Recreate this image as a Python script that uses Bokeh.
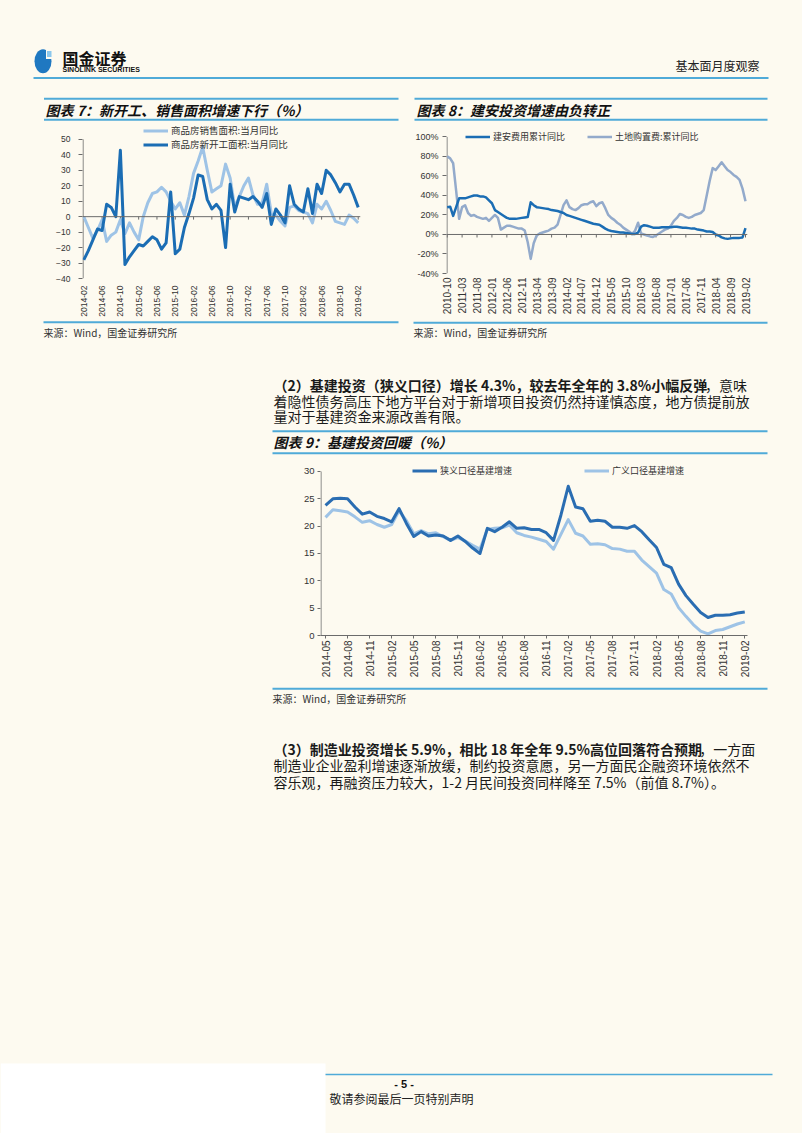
import math
from bokeh.plotting import figure
from bokeh.layouts import column, row
from bokeh.models import Range1d, FixedTicker, Span, Legend, LegendItem, PrintfTickFormatter
from bokeh.core.properties import value
from bokeh.embed import file_html
from bokeh.resources import INLINE

CJK = "Noto Sans CJK SC"
LAT = "Liberation Sans"
CREAM = "#FDFAF0"
RULE = "#4FAAD8"
DARK = "#1B6DB4"
DARK9 = "#2A6DB2"
LIGHT = "#9EC3E6"
GREYBLUE = "#93AACB"
AXIS = "#6b6b6b"
TXT = "#1a1a1a"
LBL = "#333333"
PAGE_W = 802

# ---------------- data: chart 7 (monthly 2014-02 .. 2019-02) ----------------
c7_tick_labels = ["2014-02", "2014-06", "2014-10", "2015-02", "2015-06", "2015-10",
                  "2016-02", "2016-06", "2016-10", "2017-02", "2017-06", "2017-10",
                  "2018-02", "2018-06", "2018-10", "2019-02"]
c7_sales = [0, -7, -14, -9, -2, -16, -12, -10, -2, -11,
            -4, -10, -15, 0, 9, 15, 16, 19, 16, 10,
            5, 9, 1, 13, 28, 36, 45, 30, 16, 18,
            20, 34, 25, 6, 13, 20, 25, 14, 8, 9,
            21, 2, 1, -3, -6, 6, 7, 4, 3, 2,
            -4, 8, 5, 10, 4, -3, -4, -5, 1, -1,
            -4]
c7_newstart = [-28, -22, -15, -8, -9, 8, 6, 0, 43, -31,
               -26, -22, -18, -19, -16, -13, -15, -21, -17, 16,
               -24, -21, -7, 2, 12, 27, 26, 11, 5, 8,
               4, -20, 21, 3, 13, 12, 11, 13, 10, 6,
               15, -5, 5, 1, -4, 20, 8, 5, 3, 18,
               2, 21, 15, 30, 27, 22, 16, 21, 21, 14,
               6]
c7_yticks = [-40, -30, -20, -10, 0, 10, 20, 30, 40, 50]
c7_names = ["商品房销售面积:当月同比", "商品房新开工面积:当月同比"]

# ---------------- data: chart 8 (monthly 2010-10 .. 2019-02) ----------------
c8_tick_labels = ["2010-10", "2011-03", "2011-08", "2012-01", "2012-06", "2012-11",
                  "2013-04", "2013-09", "2014-02", "2014-07", "2014-12", "2015-05",
                  "2015-10", "2016-03", "2016-08", "2017-01", "2017-06", "2017-11",
                  "2018-04", "2018-09", "2019-02"]
c8_construction = [28, 28.5, 19, 28, 37, 37, 37, 38, 39, 40,
                   40, 39, 39, 38, 35, 32, 25, 23, 21, 19,
                   17, 16, 16, 16, 16.5, 17, 17.5, 18, 33, 30,
                   28, 27.5, 27, 26.5, 26, 25, 24.5, 24, 23, 22,
                   20, 19, 18, 17, 16, 15, 14, 13, 12, 11,
                   10.5, 10, 8, 6, 4.5, 3.5, 3, 2.5, 2, 2,
                   1.5, 1, 0.5, 0.5, 2, 8, 9.5, 9, 8, 7,
                   7, 7, 7.5, 7.5, 7.5, 7.5, 8, 8, 7.5, 7,
                   7, 6.5, 6, 6, 5, 4.5, 4, 3, 3, 2.5,
                   0, -1, -3, -4, -4.5, -4, -3.5, -3.5, -3.5, -3,
                   6.5]
c8_land = [80, 78, 73, 45, 16, 28, 30, 22, 19, 20,
           18, 17, 16, 17, 14, 17, 20, 17, 5, 7,
           9, 9, 8, 7, 6, 6, 4, -8, -25, -9,
           -1, 1, 2, 3, 4, 6, 7, 10, 20, 30,
           35, 28, 26, 25, 27, 30, 31, 31, 33, 34,
           29, 32, 33, 27, 20, 17, 15, 12, 10, 7,
           5, 3, 0.5, 4, 12, 1, 0, -1, -2, -2.5,
           -1, 1, 3, 5, 6, 9, 14, 17, 21, 20,
           18, 17, 18, 20, 21, 22, 25, 40, 55, 68,
           66, 70, 74, 70, 66, 64, 61, 59, 56, 47,
           34]
c8_yticks = [-40, -20, 0, 20, 40, 60, 80, 100]
c8_names = ["建安费用累计同比", "土地购置费:累计同比"]

# ---------------- data: chart 9 (monthly 2014-05 .. 2019-02) ----------------
c9_tick_labels = ["2014-05", "2014-08", "2014-11", "2015-02", "2015-05", "2015-08",
                  "2015-11", "2016-02", "2016-05", "2016-08", "2016-11", "2017-02",
                  "2017-05", "2017-08", "2017-11", "2018-02", "2018-05", "2018-08",
                  "2018-11", "2019-02"]
c9_narrow = [23.8, 25.0, 25.1, 25.0, 23.5, 22.2, 22.6, 21.8, 21.4, 20.8,
             23.2, 20.5, 18.1, 19.0, 18.2, 18.4, 18.2, 17.4, 18.2, 17.2,
             16.0, 15.0, 19.6, 19.0, 19.8, 20.8, 19.6, 19.7, 19.4, 19.4,
             18.8, 17.4, 22.0, 27.3, 23.5, 23.2, 20.9, 21.1, 20.9, 19.8,
             19.8, 19.6, 20.1, 19.0, 17.5, 16.1, 13.0, 12.4, 9.4, 7.3,
             5.7, 4.2, 3.3, 3.7, 3.7, 3.8, 4.1, 4.3]
c9_broad = [21.6, 23.0, 22.8, 22.6, 21.7, 20.7, 21.0, 20.3, 19.8, 20.3,
            22.8, 21.0, 18.6, 19.2, 18.6, 18.8, 18.1, 17.4, 17.9, 17.3,
            16.5, 15.8, 19.4, 19.6, 19.7, 20.2, 18.8, 18.3, 18.0, 17.6,
            17.2, 15.8, 18.5, 21.2, 18.7, 18.2, 16.7, 16.8, 16.6, 15.9,
            15.8, 15.4, 15.4, 13.8, 12.6, 11.4, 8.4, 7.6, 5.1, 3.5,
            2.0, 0.8, 0.3, 0.9, 1.1, 1.6, 2.1, 2.5]
c9_yticks = [0, 5, 10, 15, 20, 25, 30]
c9_names = ["狭义口径基建增速", "广义口径基建增速"]

# ---------------- texts ----------------
header_right = "基本面月度观察"
title7 = "图表 7：新开工、销售面积增速下行（%）"
title8 = "图表 8：建安投资增速由负转正"
title9 = "图表 9：基建投资回暖（%）"
source = "来源：Wind，国金证券研究所"
p2_l1_bold = "（2）基建投资（狭义口径）增长 4.3%，较去年全年的 3.8%小幅反弹"
p2_l1_norm = "，意味"
p2_l2 = "着隐性债务高压下地方平台对于新增项目投资仍然持谨慎态度，地方债提前放"
p2_l3 = "量对于基建资金来源改善有限。"
p3_l1_bold = "（3）制造业投资增长 5.9%，相比 18 年全年 9.5%高位回落符合预期"
p3_l1_norm = "，一方面"
p3_l2 = "制造业企业盈利增速逐渐放缓，制约投资意愿，另一方面民企融资环境依然不"
p3_l3 = "容乐观，再融资压力较大，1-2 月民间投资同样降至 7.5%（前值 8.7%）。"
page_no = "- 5 -"
disclaimer = "敬请参阅最后一页特别声明"


# ---------------- helpers ----------------
def page_fig(y0, y1, x0=0, x1=PAGE_W):
    f = figure(width=int(x1 - x0), height=int(y1 - y0), x_range=Range1d(x0, x1), y_range=Range1d(y1, y0),
               x_axis_type=None, y_axis_type=None, output_backend="svg",
               toolbar_location=None, min_border=0)
    f.outline_line_color = None
    f.background_fill_color = CREAM
    f.border_fill_color = CREAM
    return f


def txt(f, x, y, s, size, font=CJK, style="normal", align="left", color=TXT):
    f.text(x=[x], y=[y], text=[s], text_font=value(font), text_font_size=size,
           text_font_style=style, text_align=align, text_baseline="middle", text_color=color)


def rule(f, x0, x1, y, width=2, color=RULE):
    f.segment(x0=[x0], y0=[y], x1=[x1], y1=[y], line_color=color, line_width=width)


def est_width(s, fs, bold=False):
    w = 0.0
    for ch in s:
        if ord(ch) > 0x2000:
            w += 1.0
        elif ch.isdigit():
            w += 0.57 if bold else 0.55
        elif ch == ".":
            w += 0.28
        elif ch == "%":
            w += 0.9
        elif ch == " ":
            w += 0.23
        elif ch == "-":
            w += 0.34
        else:
            w += 0.6
    return w * fs


def chart_fig(w, h, bl, br, bt, bb, xr, yr):
    p = figure(width=w, height=h, x_range=Range1d(*xr), y_range=Range1d(*yr),
               output_backend="svg", toolbar_location=None,
               min_border_left=bl, min_border_right=br, min_border_top=bt, min_border_bottom=bb)
    p.background_fill_color = CREAM
    p.border_fill_color = CREAM
    p.outline_line_color = None
    p.grid.visible = False
    return p


def style_axes(p, xticks, xlabels, xfs, xstand, yticks, yfs, ystand, ytick_out, x_axis_line):
    xa = p.xaxis[0]
    xa.ticker = FixedTicker(ticks=xticks)
    xa.major_label_overrides = {t: l for t, l in zip(xticks, xlabels)}
    xa.major_label_orientation = math.pi / 2
    xa.major_label_text_font = LAT
    xa.major_label_text_font_size = xfs
    xa.major_label_text_color = LBL
    xa.major_label_standoff = xstand
    xa.minor_tick_line_color = None
    if x_axis_line:
        xa.axis_line_color = AXIS
        xa.major_tick_line_color = AXIS
        xa.major_tick_out = 3
        xa.major_tick_in = 0
    else:
        xa.axis_line_color = None
        xa.major_tick_line_color = None
        xa.major_tick_out = 0
        xa.major_tick_in = 0
    ya = p.yaxis[0]
    ya.ticker = FixedTicker(ticks=yticks)
    ya.major_label_text_font = LAT
    ya.major_label_text_font_size = yfs
    ya.major_label_text_color = LBL
    ya.major_label_standoff = ystand
    ya.axis_line_color = None
    ya.major_tick_line_color = AXIS
    ya.major_tick_out = ytick_out
    ya.major_tick_in = 0
    ya.minor_tick_line_color = None


def y_axis_line(p, x_at, yticks):
    # the y axis line only spans the tick range (the frame extends higher for the legend)
    p.segment(x0=[x_at], y0=[min(yticks)], x1=[x_at], y1=[max(yticks)], line_color=AXIS, line_width=1)


def make_legend(items, loc, orientation, fs, spacing):
    return Legend(items=items, location=loc, orientation=orientation,
                  background_fill_alpha=0, border_line_color=None, padding=0, margin=0,
                  spacing=spacing, glyph_width=25, glyph_height=11, label_height=11,
                  label_standoff=3, label_text_font=CJK, label_text_font_size=fs,
                  label_text_color=LBL)


# ---------------- header (page y 0..122) ----------------
hdr = page_fig(0, 122)
hdr.ellipse(x=[42.5], y=[60.8], width=[17], height=[24], fill_color="#1F78C1", line_color=None)
hdr.quad(left=[45.5], right=[52.5], top=[48], bottom=[58.5], fill_color=CREAM, line_color=None)
hdr.quad(left=[46.5], right=[51], top=[50.5], bottom=[56.5], fill_color="#8CC7EC", line_color=None)
txt(hdr, 62, 57.5, "国金证券", "16px", style="bold", color="#111111")
txt(hdr, 62, 69, "SINOLINK SECURITIES", "7px", font=LAT, style="bold", color="#111111")
txt(hdr, 759, 65, header_right, "12px", align="right", color="#222222")
rule(hdr, 33, 768, 77.5)
rule(hdr, 43.5, 398, 98.3)
rule(hdr, 43.5, 398, 119.3)
rule(hdr, 414, 767, 98.3)
rule(hdr, 414, 767, 119.3)
txt(hdr, 45, 109.5, title7, "14px", style="bold italic", color="#111111")
txt(hdr, 416, 109.5, title8, "14px", style="bold italic", color="#111111")

# ---------------- chart 7 (page x 0..406, y 122..319); frame x 82..360, y 124..279 ----------------
c7_x = list(range(len(c7_sales)))
c7_ticks = list(range(0, len(c7_sales), 4))
c7_xr = (-0.28, 60.5)
p7 = chart_fig(406, 197, 82, 46, 2, 40, c7_xr, (-40, -40 + 155 / 1.556))
style_axes(p7, c7_ticks, c7_tick_labels, "8.5px", 7, c7_yticks, "8.5px", 8, 4, False)
y_axis_line(p7, c7_xr[0] + 0.12, c7_yticks)
p7.add_layout(Span(location=0, dimension="width", line_color=AXIS, line_width=1))
p7.segment(x0=c7_ticks, y0=[0] * len(c7_ticks), x1=c7_ticks, y1=[-1.9] * len(c7_ticks),
           line_color=AXIS, line_width=1)
r7a = p7.line(c7_x, c7_sales, line_color=LIGHT, line_width=3, line_join="round")
r7b = p7.line(c7_x, c7_newstart, line_color=DARK, line_width=3, line_join="round")
p7.add_layout(make_legend([LegendItem(label=c7_names[0], renderers=[r7a]),
                           LegendItem(label=c7_names[1], renderers=[r7b])],
                          (61, 127), "vertical", "9.5px", -3))

# ---------------- chart 8 (page x 406..802, y 122..319); frame x 446..747, y 130..273 ----------------
c8_x = list(range(len(c8_land)))
c8_ticks = list(range(0, len(c8_land), 5))
c8_xr = (-0.23, 100.67)
p8 = chart_fig(396, 197, 40, 55, 8, 46, c8_xr, (-40, -40 + 143 / 0.9757))
style_axes(p8, c8_ticks, c8_tick_labels, "10px", 4, c8_yticks, "9px", 4, 4, False)
p8.yaxis[0].formatter = PrintfTickFormatter(format="%d%%")
y_axis_line(p8, c8_xr[0] + 0.17, c8_yticks)
p8.add_layout(Span(location=0, dimension="width", line_color=AXIS, line_width=1))
p8.segment(x0=c8_ticks, y0=[0] * len(c8_ticks), x1=c8_ticks, y1=[-3.1] * len(c8_ticks),
           line_color=AXIS, line_width=1)
r8b = p8.line(c8_x, c8_land, line_color=GREYBLUE, line_width=2.5, line_join="round")
r8a = p8.line(c8_x, c8_construction, line_color=DARK, line_width=2.5, line_join="round")
p8.add_layout(make_legend([LegendItem(label=c8_names[0], renderers=[r8a]),
                           LegendItem(label=c8_names[1], renderers=[r8b])],
                          (19, 130), "horizontal", "9px", 22))

# ---------------- middle (page y 319..456) ----------------
mid = page_fig(319, 456)
rule(mid, 43, 398, 321.7)
rule(mid, 413, 767, 322.3)
txt(mid, 43, 332, source, "10px", color="#333333")
txt(mid, 413, 332, source, "10px", color="#333333")
FS = 14
txt(mid, 273, 384.5, p2_l1_bold, "14px", style="bold")
txt(mid, 273 + est_width(p2_l1_bold, FS, True) + 2, 384.5, p2_l1_norm, "14px")
txt(mid, 273, 400, p2_l2, "14px")
txt(mid, 273, 415.5, p2_l3, "14px")
rule(mid, 272, 767, 430.7)
rule(mid, 272, 767, 452.7)
txt(mid, 273, 441, title9, "14px", style="bold italic", color="#111111")

# ---------------- chart 9 (page y 456..686); frame x 320..747, y 463..635 ----------------
left9 = page_fig(456, 686, 0, 290)
c9_x = list(range(len(c9_narrow)))
c9_ticks = list(range(0, len(c9_narrow), 3))
c9_xr = (-0.68, 57.37)
p9 = chart_fig(PAGE_W - 290, 230, 30, 55, 7, 51, c9_xr, (0, 172 / 5.467))
style_axes(p9, c9_ticks, c9_tick_labels, "10px", 2, c9_yticks, "9.5px", 3, 3, True)
y_axis_line(p9, c9_xr[0] + 0.07, c9_yticks)
r9b = p9.line(c9_x, c9_broad, line_color=LIGHT, line_width=3, line_join="round")
r9a = p9.line(c9_x, c9_narrow, line_color=DARK9, line_width=3, line_join="round")
p9.add_layout(make_legend([LegendItem(label=c9_names[0], renderers=[r9a]),
                           LegendItem(label=c9_names[1], renderers=[r9b])],
                          (92, 158), "horizontal", "9px", 72))

# ---------------- bottom (page y 686..1133) ----------------
bot = page_fig(686, 1133)
rule(bot, 272, 767, 688.3)
txt(bot, 272, 698, source, "10px", color="#333333")
txt(bot, 273, 748, p3_l1_bold, "14px", style="bold")
txt(bot, 273 + est_width(p3_l1_bold, FS, True) + 2, 748, p3_l1_norm, "14px")
txt(bot, 273, 764.5, p3_l2, "14px")
txt(bot, 273, 781, p3_l3, "14px")
bot.quad(left=[0], right=[325], top=[1063], bottom=[1133], fill_color="#FFFFFF", line_color=None)
rule(bot, 325, 772, 1074, width=1.5)
txt(bot, 403.6, 1083, page_no, "11px", font=LAT, style="bold", align="center", color="#111111")
txt(bot, 329, 1098, disclaimer, "12px", color="#222222")

layout = column(row(hdr, background=CREAM),
                row(column(p7, background=CREAM), column(p8, background=CREAM), background=CREAM),
                row(mid, background=CREAM),
                row(column(left9, background=CREAM), column(p9, background=CREAM), background=CREAM),
                row(bot, background=CREAM),
                background=CREAM)
open("out.html", "w").write(file_html(layout, INLINE, title="基本面月度观察"))
